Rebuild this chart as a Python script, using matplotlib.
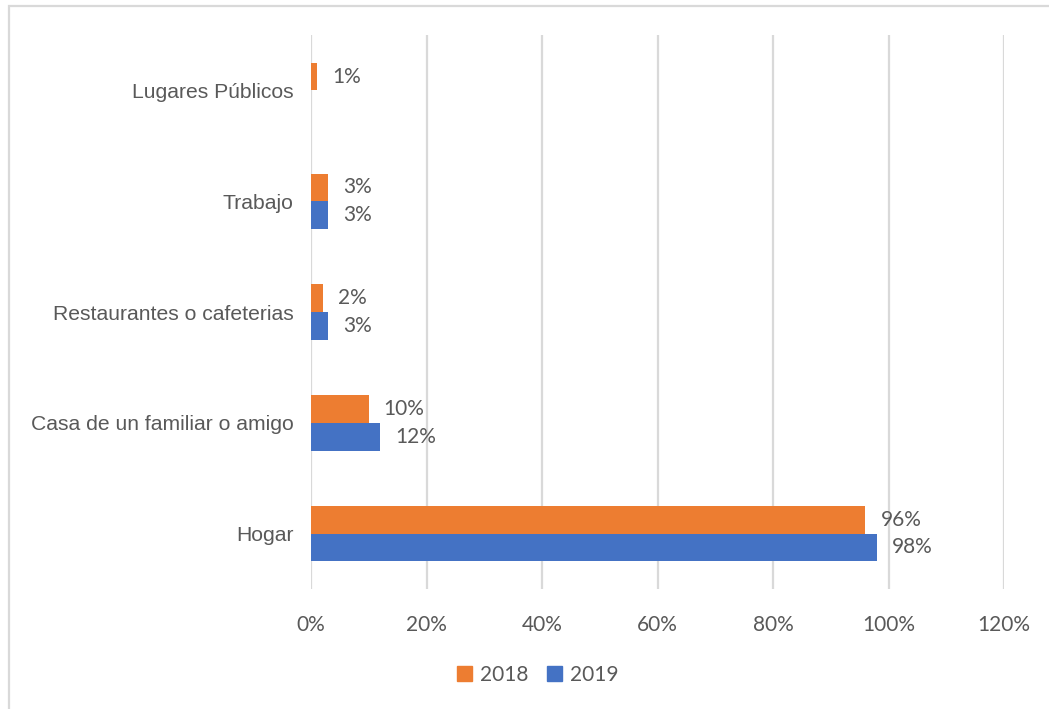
import matplotlib.pyplot as plt
from matplotlib.patches import Rectangle, Patch
from matplotlib.ticker import FuncFormatter
import numpy as np

categories = ["Hogar", "Casa de un familiar o amigo", "Restaurantes o cafeterias",
              "Trabajo", "Lugares Públicos"]
vals_2018 = [96, 10, 2, 3, 1]
vals_2019 = [98, 12, 3, 3, None]

c2018 = "#ED7D31"
c2019 = "#4472C4"
grey = "#595959"
num_font = "Lato"
cat_font = "Liberation Sans"

fig = plt.figure(figsize=(10.49, 7.09), dpi=100)
W, H = 1049, 709

# outer chart frame, partly running off the right and bottom edges
fig.patches.append(Rectangle((8.5 / W, -0.1), 1.2, 1 - 5.5 / H + 0.1,
                             transform=fig.transFigure, fill=False,
                             edgecolor="#D9D9D9", linewidth=1.6))

ax = fig.add_axes([311 / W, 1 - 589 / H, (1004 - 311) / W, (589 - 35) / H])

y = np.arange(len(categories))
h = 0.25
for i, v in enumerate(vals_2018):
    ax.barh(y[i] + h / 2, v, height=h, color=c2018, zorder=3)
    ax.text(v + 2.6, y[i] + h / 2, f"{v}%", va="center", ha="left",
            fontsize=15, color=grey, family=num_font)
for i, v in enumerate(vals_2019):
    if v is None:
        continue
    ax.barh(y[i] - h / 2, v, height=h, color=c2019, zorder=3)
    ax.text(v + 2.6, y[i] - h / 2, f"{v}%", va="center", ha="left",
            fontsize=15, color=grey, family=num_font)

ax.set_xlim(0, 120)
ax.set_ylim(-0.5, len(categories) - 0.5)
ax.set_xticks(np.arange(0, 121, 20))
ax.xaxis.set_major_formatter(FuncFormatter(lambda x, pos: f"{int(x)}%"))
ax.set_yticks(y)
ax.set_yticklabels(categories)
ax.grid(axis="x", color="#D9D9D9", linewidth=1.6, zorder=0)
ax.tick_params(length=0)
ax.tick_params(axis="x", pad=19, labelsize=15, labelcolor=grey)
ax.tick_params(axis="y", pad=12.5, labelsize=15.2, labelcolor=grey)
for lbl in ax.get_xticklabels():
    lbl.set_family(num_font)
for lbl in ax.get_yticklabels():
    lbl.set_family(cat_font)
for s in ax.spines.values():
    s.set_visible(False)

handles = [Patch(color=c2018, label="2018"), Patch(color=c2019, label="2019")]
fig.legend(handles=handles, loc="center", bbox_to_anchor=(538 / W, 1 - 675 / H),
           ncol=2, frameon=False, prop={"family": num_font, "size": 15},
           labelcolor=grey, handlelength=0.7, handleheight=0.7,
           handletextpad=0.4, columnspacing=0.9)

fig.savefig("out.png", dpi=100)
